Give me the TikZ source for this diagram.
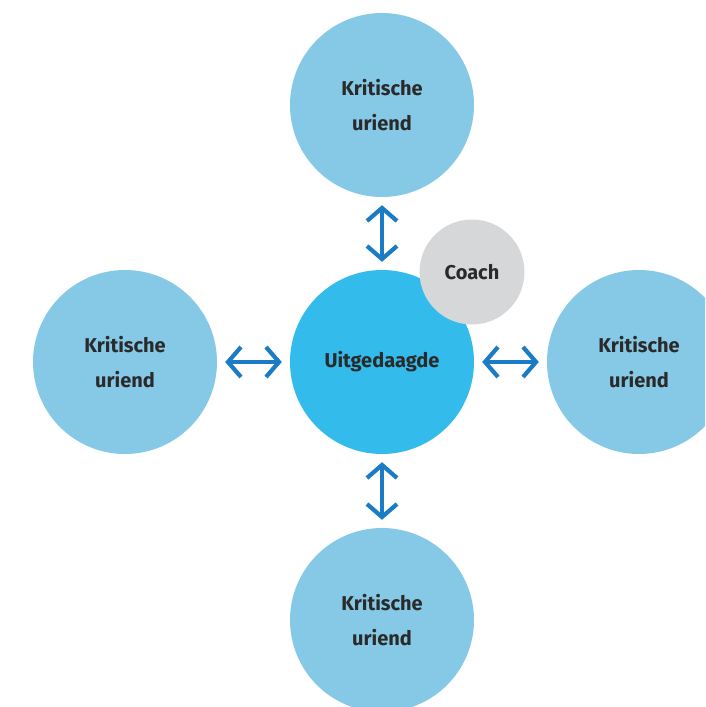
\documentclass[tikz,border=0pt]{standalone}
\usepackage{fontspec}
\setmainfont{Fira Sans}
\usetikzlibrary{arrows.meta}
\definecolor{friend}{HTML}{85C9E6}
\definecolor{core}{HTML}{33BBEB}
\definecolor{coachgray}{HTML}{D5D7D8}
\definecolor{link}{HTML}{1B7BC4}
\definecolor{ink}{HTML}{2A2A2A}
\begin{document}
\begin{tikzpicture}[x=1pt,y=-1pt,
  bubble/.style={circle,minimum size=184pt,inner sep=0pt,text=ink,
    font=\fontsize{20}{35}\selectfont\bfseries,align=center},
  friendbubble/.style={bubble,fill=friend},
  corebubble/.style={bubble,fill=core},
  coachbubble/.style={bubble,fill=coachgray,minimum size=105pt},
  barb/.tip={Straight Barb[length=13pt,width=30pt,line width=4.2pt]},
  twoway/.style={link,line width=4.2pt,barb-barb}
]
\useasboundingbox (0,0) rectangle (705,707);
\begin{scope}
\clip (0,0) rectangle (705,707);
\node[friendbubble] (top) at (382,105) {Kritische\\uriend};
\node[friendbubble] (left) at (125,362) {Kritische\\uriend};
\node[friendbubble] (right) at (639,362) {Kritische\\uriend};
\node[friendbubble] (bottom) at (382,620) {Kritische\\uriend};
\node[corebubble] (center) at (382,362) {Uitgedaagde};
\node[coachbubble] (coach) at (472,272) {Coach};

% two-way links, kept a little clear of the circles
\draw[twoway] ([yshift=-8pt]top.south) -- ([yshift=8pt]center.north);
\draw[twoway] ([yshift=8pt]bottom.north) -- ([yshift=-8pt]center.south);
\draw[twoway] ([xshift=8pt]left.east) -- ([xshift=-8pt]center.west);
\draw[twoway] ([xshift=-8pt]right.west) -- ([xshift=8pt]center.east);
\end{scope}
\end{tikzpicture}
\end{document}
